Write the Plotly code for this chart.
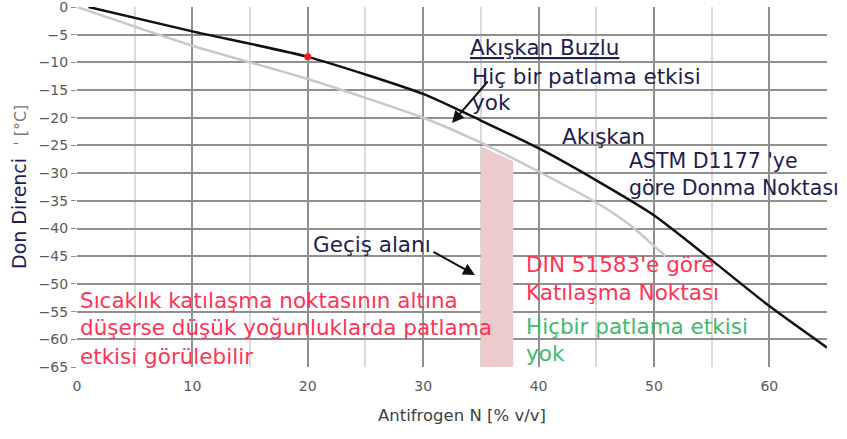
import plotly.graph_objects as go

# Data
x_flow = [1, 10, 20, 30, 35, 40, 45, 50, 55, 60, 65]
y_flow = [0, -4.4, -9, -15.7, -20.5, -25.5, -31.3, -37.6, -45.7, -54, -61.5]
x_solid = [0, 10, 20, 30, 35, 40, 45, 48, 51]
y_solid = [0, -7, -13, -20, -24.5, -29.7, -35.3, -39.5, -45]
x_point = [20]
y_point = [-9]
x_band = [35, 35, 37.8, 37.8]
y_band = [-65, -25.2, -27.8, -65]
x_ticks = [0, 10, 20, 30, 40, 50, 60]
y_ticks = list(range(0, -70, -5))

W, H = 847, 439
L, R, T, B = 77, 20, 7, 72
XMIN, XMAX, YMIN, YMAX = 0, 65, -65, 0
pw, ph = W - L - R, H - T - B

def px(xp):
    return XMIN + (xp - L) / pw * (XMAX - XMIN)

def py(yp):
    return YMAX - (yp - T) / ph * (YMAX - YMIN)

fig = go.Figure()
fig.add_trace(go.Scatter(x=x_band, y=y_band, fill="toself", mode="none",
                         fillcolor="rgb(237,202,204)", hoverinfo="skip", showlegend=False))
fig.add_trace(go.Scatter(x=x_solid, y=y_solid, mode="lines",
                         line=dict(color="#c8c8c8", width=2.5, shape="spline", smoothing=0.6),
                         showlegend=False))
fig.add_trace(go.Scatter(x=x_flow, y=y_flow, mode="lines",
                         line=dict(color="#111111", width=2.5, shape="spline", smoothing=0.6),
                         showlegend=False))
fig.add_trace(go.Scatter(x=x_point, y=y_point, mode="markers",
                         marker=dict(color="#ff1a1a", size=7), showlegend=False))

FONT = "DejaVu Sans"
FS = 21.5
NAVY = "#1e1e50"
RED = "#ff3355"
GREEN = "#3dbb6d"

texts = [
    ("<u>Akışkan Buzlu</u>", 468, 47, NAVY, FS),
    ("Hiç bir patlama etkisi", 470, 76, NAVY, FS),
    ("yok", 470, 102, NAVY, FS),
    ("Akışkan", 560, 136, NAVY, FS),
    ("ASTM D1177 'ye", 627, 161, NAVY, 20.5),
    ("göre Donma Noktası", 627, 188, NAVY, 20.5),
    ("Geçiş alanı", 311, 244, NAVY, FS),
    ("DIN 51583'e göre", 524, 264, RED, FS),
    ("Katılaşma Noktası", 524, 292, RED, FS),
    ("Hiçbir patlama etkisi", 524, 326, GREEN, FS),
    ("yok", 524, 353, GREEN, FS),
    ("Sıcaklık katılaşma noktasının altına", 78, 300, RED, FS),
    ("düşerse düşük yoğunluklarda patlama", 78, 327, RED, FS),
    ("etkisi görülebilir", 78, 356, RED, FS),
]
ann = []
for t, xp, yp, c, fs in texts:
    ann.append(dict(text=t, x=px(xp), y=py(yp), xref="x", yref="y", xanchor="left",
                    yanchor="middle", showarrow=False, font=dict(family=FONT, size=fs, color=c)))

# arrows
ann.append(dict(text="", x=px(452), y=py(123), ax=px(489), ay=py(80), xref="x", yref="y",
                axref="x", ayref="y", showarrow=True, arrowhead=2, arrowsize=1.2,
                arrowwidth=2, arrowcolor="#111111"))
ann.append(dict(text="", x=px(475), y=py(275), ax=px(432), ay=py(251), xref="x", yref="y",
                axref="x", ayref="y", showarrow=True, arrowhead=2, arrowsize=1.2,
                arrowwidth=2, arrowcolor="#111111"))

# axis titles
ann.append(dict(text="<span style='color:#1e1e50'>Don Direnci</span>  <span style='color:#777777;font-size:16px'>ˈ [°C]</span>",
                x=(19 - L) / pw, y=(H - B - 187) / ph, xref="paper", yref="paper",
                textangle=-90, showarrow=False, xanchor="center", yanchor="middle",
                font=dict(family=FONT, size=19, color=NAVY)))
ann.append(dict(text="Antifrogen N [% v/v]", x=(462 - L) / pw, y=-(415 - (H - B)) / ph,
                xref="paper", yref="paper", showarrow=False, xanchor="center", yanchor="middle",
                font=dict(family=FONT, size=16.5, color="#404040")))

fig.update_layout(
    width=W, height=H, margin=dict(l=L, r=R, t=T, b=B),
    plot_bgcolor="white", paper_bgcolor="white",
    annotations=ann, showlegend=False,
    xaxis=dict(range=[XMIN, XMAX], tickvals=x_ticks, showgrid=True, gridcolor="#8f8f8f",
               gridwidth=1.5, zeroline=False, showline=False, ticks="", automargin=False,
               ticklabeloverflow="allow", ticklabelstandoff=9,
               tickfont=dict(family=FONT, size=14, color="#595959"),
               minor=dict(dtick=5, showgrid=True, gridcolor="#dadada", gridwidth=1.5)),
    yaxis=dict(range=[YMIN, YMAX], tickvals=y_ticks, showgrid=True, gridcolor="#8f8f8f",
               gridwidth=1.5, zeroline=False, showline=False, ticks="outside", ticklen=5,
               tickcolor="#8f8f8f", automargin=False, ticklabeloverflow="allow",
               tickfont=dict(family=FONT, size=14, color="#595959")),
)

fig.write_html("out.html", config={"displayModeBar": False},
               post_script="document.body.style.margin='0';document.body.style.overflow='hidden';")
